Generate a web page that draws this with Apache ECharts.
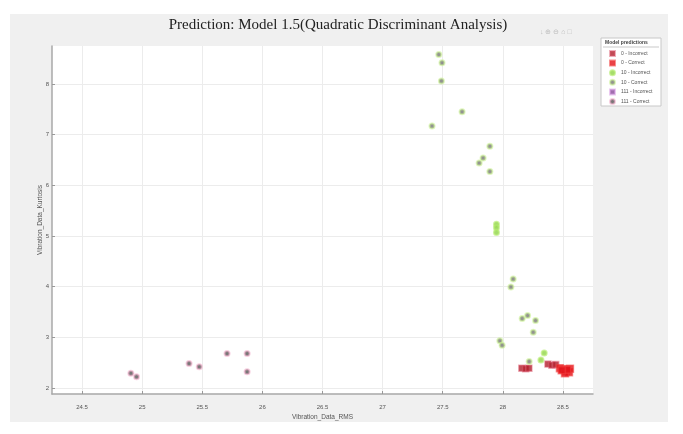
<!DOCTYPE html>
<html>
<head>
<meta charset="utf-8">
<script src="https://cdn.jsdelivr.net/npm/echarts@6/dist/echarts.min.js"></script>
<style>
  html, body { margin: 0; padding: 0; background: #fff; }
  #chart { width: 683px; height: 434px; }
</style>
</head>
<body>
<div id="chart"></div>
<script>
  // tick values
  var xTicks = [24.5, 25, 25.5, 26, 26.5, 27, 27.5, 28, 28.5]
  var yTicks = [2, 3, 4, 5, 6, 7, 8]

  // [Vibration_Data_RMS, Vibration_Data_Kurtosis]
  var class0Incorrect = [
    [28.158, 2.39], [28.19, 2.38], [28.217, 2.39],
    [28.375, 2.47], [28.408, 2.45], [28.44, 2.46]
  ]
  var class0Correct = [
    [28.475, 2.39], [28.5, 2.37], [28.525, 2.33], [28.55, 2.31],
    [28.517, 2.29], [28.558, 2.38], [28.535, 2.36], [28.49, 2.35]
  ]
  var class10Incorrect = [
    [27.947, 5.23], [27.947, 5.16], [27.947, 5.07], [28.344, 2.69], [28.317, 2.55]
  ]
  var class10Correct = [
    [27.467, 8.58], [27.494, 8.42], [27.489, 8.06], [27.661, 7.45],
    [27.411, 7.17], [27.892, 6.77], [27.836, 6.54], [27.803, 6.44],
    [27.892, 6.27], [28.086, 4.15], [28.067, 3.99], [28.161, 3.37],
    [28.206, 3.43], [28.272, 3.33], [28.253, 3.10], [27.975, 2.93],
    [27.994, 2.84], [28.219, 2.52]
  ]
  var class111Incorrect = []
  var class111Correct = [
    [24.906, 2.29], [24.953, 2.22], [25.39, 2.48], [25.475, 2.42],
    [25.706, 2.68], [25.873, 2.68], [25.873, 2.32]
  ]

  var myChart = echarts.init(document.getElementById('chart'))

  function pointSeries(name, data, opts) {
    return {
      name: name,
      type: 'scatter',
      data: data,
      symbol: opts.symbol || 'circle',
      symbolSize: opts.size || 5,
      itemStyle: {
        color: opts.color,
        borderColor: opts.border,
        borderWidth: opts.borderWidth || 1.5
      },
      emphasis: { disabled: true }
    }
  }

  var option = {
    backgroundColor: '#fff',
    animation: false,
    title: {
      text: 'Prediction: Model 1.5(Quadratic Discriminant Analysis)',
      left: 333,
      textAlign: 'center',
      top: 13,
      textStyle: {
        fontFamily: 'Liberation Serif',
        fontSize: 15,
        fontWeight: 'normal',
        color: '#222'
      }
    },
    graphic: [
      { type: 'rect', z: -10, silent: true, shape: { x: 10, y: 14, width: 658, height: 408 }, style: { fill: '#f0f0f0' } },
      { type: 'rect', z: -9, silent: true, shape: { x: 52, y: 46, width: 541, height: 348 }, style: { fill: '#fff' } },
      { type: 'text', left: 540, top: 29, silent: true, style: { text: '\u2193 \u2295 \u2296 \u2302 \u25a1', fontSize: 7, fill: '#bdbdbd' } },
      { type: 'rect', silent: true, shape: { x: 601, y: 38, width: 60, height: 68 }, style: { fill: '#fff', stroke: '#c8c8c8', lineWidth: 1 } },
      { type: 'text', left: 605, top: 40.5, silent: true, style: { text: 'Model predictions', fontSize: 5, fontWeight: 'bold', fill: '#444' } },
      { type: 'line', silent: true, shape: { x1: 603, y1: 47, x2: 659, y2: 47 }, style: { stroke: '#bbb', lineWidth: 0.8 } }
    ],
    legend: {
      orient: 'vertical',
      left: 609,
      top: 50,
      itemWidth: 5,
      itemHeight: 5,
      itemGap: 2.6,
      padding: 0,
      textStyle: { fontSize: 5, color: '#555', padding: [0, 0, 0, 1] },
      data: ['0 - Incorrect', '0 - Correct', '10 - Incorrect', '10 - Correct', '111 - Incorrect', '111 - Correct']
    },
    grid: { left: 52, top: 46, width: 541, height: 348 },
    xAxis: {
      type: 'value',
      min: 24.25,
      max: 28.75,
      name: 'Vibration_Data_RMS',
      nameLocation: 'middle',
      nameGap: 20,
      nameMoveOverlap: false,
      nameTextStyle: { fontSize: 6.5, color: '#555' },
      axisLine: { onZero: false, lineStyle: { color: '#a8a8a8', width: 1.5 } },
      axisTick: { inside: true, length: 3, customValues: xTicks, lineStyle: { color: '#999' } },
      axisLabel: { customValues: xTicks, fontSize: 6, color: '#555', margin: 10 },
      splitLine: { show: true, lineStyle: { color: '#ececec' } }
    },
    yAxis: {
      type: 'value',
      min: 1.88,
      max: 8.75,
      name: 'Vibration_Data_Kurtosis',
      nameLocation: 'middle',
      nameGap: 8,
      nameMoveOverlap: false,
      nameTextStyle: { fontSize: 6.5, color: '#555' },
      axisLine: { show: true, onZero: false, lineStyle: { color: '#a8a8a8', width: 1.5 } },
      axisTick: { show: true, inside: true, length: 3, customValues: yTicks, lineStyle: { color: '#999' } },
      axisLabel: { customValues: yTicks, fontSize: 6, color: '#555', margin: 3 },
      splitLine: { show: true, lineStyle: { color: '#ececec' } }
    },
    series: [
      pointSeries('0 - Incorrect', class0Incorrect, { symbol: 'rect', size: 6, color: '#b01e2a', border: 'rgba(220,90,110,0.6)' }),
      pointSeries('0 - Correct', class0Correct, { symbol: 'rect', size: 7, color: '#e2141c', border: 'rgba(240,60,60,0.7)' }),
      pointSeries('10 - Incorrect', class10Incorrect, { size: 5, color: '#8fd24a', border: 'rgba(180,235,110,0.8)', borderWidth: 2 }),
      pointSeries('10 - Correct', class10Correct, { size: 5, color: '#777', border: 'rgba(200,240,140,0.7)', borderWidth: 2 }),
      pointSeries('111 - Incorrect', class111Incorrect, { symbol: 'rect', size: 5, color: '#8a4a9a', border: 'rgba(220,160,230,0.7)' }),
      pointSeries('111 - Correct', class111Correct, { size: 5, color: '#555', border: 'rgba(240,170,200,0.7)', borderWidth: 2 })
    ]
  }

  myChart.setOption(option)
  window.addEventListener('resize', () => {
    myChart && myChart.resize()
  })
</script>
</body>
</html>
